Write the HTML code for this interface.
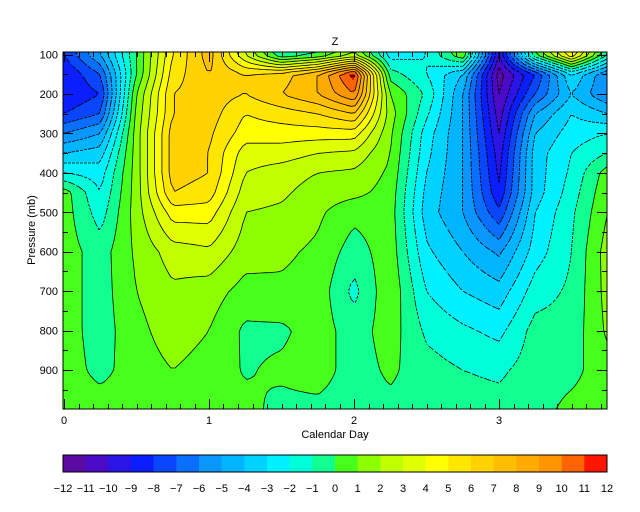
<!DOCTYPE html>
<html><head><meta charset="utf-8">
<style>
html,body{margin:0;padding:0;background:#fff;}
svg{display:block;}
text{font-family:"Liberation Sans",sans-serif;font-size:11px;fill:#000;}
</style></head>
<body>
<svg id="chart" width="640" height="512" viewBox="0 0 640 512" xmlns="http://www.w3.org/2000/svg">
  <rect width="640" height="512" fill="#fff"/>
  <g id="field"></g>
  <g id="lines"></g>
  <g id="axes"></g>
  <g id="cbar"></g>
  <text x="335" y="45" text-anchor="middle">Z</text>
  <text x="335" y="438" text-anchor="middle">Calendar Day</text>
  <text x="0" y="0" text-anchor="middle" transform="translate(35,230) rotate(-90)">Pressure (mb)</text>
</svg>
<script>
// ---- data ----
const days = [0,0.25,0.5,0.75,1,1.25,1.5,1.75,2,2.25,2.5,2.75,3,3.25,3.5,3.75];
const pressures = [100,150,200,250,300,350,400,450,500,600,700,800,900,1000];
// values[col][row] : Z anomaly at each day (col) and pressure level (row)
const col00 = [-8,-9,-9,-8,-6,-4,-2,0.5,0.5,0.5,0.5,0.5,0.5,0.5];
const col01 = [-5,-7,-8,-7,-5,-3.5,-2.5,-2,-1.5,-0.5,-0.5,-0.5,-0.3,0.5];
const col02 = [0,0,1,1.3,1.5,1.5,1.5,1.5,1.5,1.2,1,0.7,0.5,0.5];
const col03 = [5,5.5,6,6,6.5,6.5,6.5,6,4.5,2.5,1.8,1.5,1,0.5];
const col04 = [7.5,7,6.5,6.5,6.2,6,6,5.5,4.5,2.8,1.5,1,0.6,0.5];
const col05 = [3,6,6,5,4.5,3.5,3,2.5,2,1.5,0.6,-0.2,-0.1,0.3];
const col06 = [-1,6.5,7,5.5,4.5,3.5,2.5,2.2,1.8,1.2,0.8,-0.2,0.2,-0.3];
const col07 = [0,8,8,6,4.5,3,2,1.5,1.2,0.8,0.6,0.5,0.5,-0.3];
const col08 = [2,11.5,10,7,4.5,2.8,1.8,1.3,0.3,-0.5,-1.3,-0.5,-0.5,-0.5];
const col09 = [-2.5,-0.5,1,1.5,1.2,1,0.8,0.6,0.5,0.6,0.8,0.5,0.2,-0.3];
const col10 = [-2,-2,-1.2,-1.8,-2.5,-2.7,-3,-3.3,-3.5,-2.8,-2,-1.2,-0.6,-0.4];
const col11 = [1,-4,-5,-5,-5,-5,-5,-5,-5,-4,-3,-1.8,-1,-0.5];
const col12 = [-10,-11.5,-11,-10.5,-10,-9.5,-9.2,-8.8,-7.8,-5.2,-3.6,-2.3,-1.2,-0.6];
const col13 = [0,-8,-7,-5,-4,-3.5,-3.5,-3.5,-3,-2.5,-1.5,-0.6,-0.5,-0.4];
const col14 = [5,-3,-4,-3,-2.5,-2,-1.8,-1.5,-1.2,-1,-0.8,-0.6,-0.3,0.3];
const col15 = [-1,-6,-6,-4,-2,-1,0.5,0.8,1,1.5,1.4,1.2,0.6,0.5];
const values = [col00,col01,col02,col03,col04,col05,col06,col07,col08,col09,col10,col11,col12,col13,col14,col15];
const levels = [-12,-11,-10,-9,-8,-7,-6,-5,-4,-3,-2,-1,0,1,2,3,4,5,6,7,8,9,10,11,12];
const xTickLabels = ["0","1","2","3"];
const yTickLabels = ["100","200","300","400","500","600","700","800","900"];
const palette = ["#5a0aa0","#4a0ac8","#2a14e6","#0a1eff","#0a46ff","#0a6eff","#0a96ff","#00b4ff","#00d2ff","#00f0ff","#00ffd8","#10ff90","#46ff1a","#8cff00","#c0ff00","#e0ff00","#ffff00","#ffe600","#ffd200","#ffbe00","#ffaa00","#ff9600","#ff6400","#ff1400"];

// ---- geometry ----
const L=63,R=607,T=52,B=409;
const xMax=(R-64)/145;
const xs = d => 64 + d*145;
const ys = p => 54.5 + (p-100)*(370-54.5)/800;
const xinv = x => (x-64)/145;
const yinv = y => 100 + (y-54.5)*800/(370-54.5);
const NS="http://www.w3.org/2000/svg";
function mk(tag, attrs, parent){const e=document.createElementNS(NS,tag);for(const k in attrs)e.setAttribute(k,attrs[k]);parent.appendChild(e);return e;}

function interp(d,p){
  d=Math.max(days[0],Math.min(days[days.length-1],d));
  p=Math.max(pressures[0],Math.min(pressures[pressures.length-1],p));
  let i=0;while(i<days.length-2&&days[i+1]<d)i++;
  let j=0;while(j<pressures.length-2&&pressures[j+1]<p)j++;
  const fx=(d-days[i])/(days[i+1]-days[i]);
  const fy=(p-pressures[j])/(pressures[j+1]-pressures[j]);
  const a=values[i][j],b=values[i+1][j],c=values[i][j+1],e=values[i+1][j+1];
  return a*(1-fx)*(1-fy)+b*fx*(1-fy)+c*(1-fx)*fy+e*fx*fy;
}
function colorFor(v){
  let k=Math.floor(v)-levels[0];
  k=Math.max(0,Math.min(palette.length-1,k));
  return palette[k];
}

// ---- filled field ----
const field=document.getElementById('field');
const rowH=2;
for(let y=T;y<B;y+=rowH){
  const p=yinv(y+rowH/2);
  let runStart=L, runCol=null;
  for(let x=L;x<=R;x++){
    const c = x<R ? colorFor(interp(xinv(x+0.5),p)) : null;
    if(c!==runCol){
      if(runCol!==null){
        const r=mk('rect',{x:runStart,y:y,width:x-runStart,height:Math.min(rowH,B-y)+0.3,fill:runCol},field);
        
        
      }
      runStart=x;runCol=c;
    }
  }
}

// ---- contour lines (marching squares) ----
const linesG=document.getElementById('lines');
const st=4;
const gx=[],gy=[];
for(let x=L;x<=R;x+=st)gx.push(x); if(gx[gx.length-1]<R)gx.push(R);
for(let y=T;y<=B;y+=st)gy.push(y); if(gy[gy.length-1]<B)gy.push(B);
const G=gy.map(y=>gx.map(x=>interp(xinv(x),yinv(y))));
levels.slice(1,-1).forEach(lv=>{
  let d='';
  for(let j=0;j<gy.length-1;j++)for(let i=0;i<gx.length-1;i++){
    const v0=G[j][i],v1=G[j][i+1],v2=G[j+1][i+1],v3=G[j+1][i];
    const pts=[];
    const edge=(va,vb,xa,ya,xb,yb)=>{ if((va<lv)!==(vb<lv)){const f=(lv-va)/(vb-va);pts.push([xa+(xb-xa)*f,ya+(yb-ya)*f]);} };
    edge(v0,v1,gx[i],gy[j],gx[i+1],gy[j]);
    edge(v1,v2,gx[i+1],gy[j],gx[i+1],gy[j+1]);
    edge(v2,v3,gx[i+1],gy[j+1],gx[i],gy[j+1]);
    edge(v3,v0,gx[i],gy[j+1],gx[i],gy[j]);
    for(let k=0;k+1<pts.length;k+=2)d+=`M${pts[k][0].toFixed(1)},${pts[k][1].toFixed(1)}L${pts[k+1][0].toFixed(1)},${pts[k+1][1].toFixed(1)}`;
  }
  if(d){
    const path=mk('path',{d:d,fill:'none',stroke:'#000','stroke-width':0.8,'stroke-dasharray':lv<0?'3,2':'none'},linesG);
    
    
  }
});

// ---- axes ----
const axes=document.getElementById('axes');
mk('rect',{x:L,y:T,width:R-L,height:B-T,fill:'none',stroke:'#000','stroke-width':1},axes);
for(let d=0; d<=xMax+1e-6; d+=0.1){
  const x=Math.round(xs(d))+0.5;
  const major=Math.abs(d-Math.round(d))<1e-6;
  const len=major?10:5;
  mk('line',{x1:x,y1:B,x2:x,y2:B-len,stroke:'#000'},axes);
  mk('line',{x1:x,y1:T,x2:x,y2:T+len,stroke:'#000'},axes);
}
xTickLabels.forEach((lab,i)=>{
  const t=mk('text',{x:xs(i),y:424,'text-anchor':'middle'},axes);
  t.textContent=lab;
  
  
});
for(let p=100;p<=1000;p+=50){
  const y=Math.round(ys(p))+0.5;
  if(y>B)break;
  const major=p%100===0;
  const len=major?10:5;
  mk('line',{x1:L,y1:y,x2:L+len,y2:y,stroke:'#000'},axes);
  mk('line',{x1:R,y1:y,x2:R-len,y2:y,stroke:'#000'},axes);
}
yTickLabels.forEach(lab=>{
  const t=mk('text',{x:58,y:ys(+lab)+4,'text-anchor':'end'},axes);
  t.textContent=lab;
  
  
});

// ---- colorbar ----
const cbar=document.getElementById('cbar');
const cbx=v=>63+(v-levels[0])*(607-63)/(levels[levels.length-1]-levels[0]);
palette.forEach((c,i)=>{
  const r=mk('rect',{x:cbx(levels[i]),y:455,width:cbx(levels[i+1])-cbx(levels[i])+0.3,height:17,fill:c},cbar);
  
  
});
mk('rect',{x:63,y:455,width:544,height:17,fill:'none',stroke:'#000'},cbar);
levels.forEach(v=>{
  const t=mk('text',{x:cbx(v),y:492,'text-anchor':'middle'},cbar);
  t.textContent=(v<0?'\u2212':'')+Math.abs(v);
  
  
});
</script>
</body></html>
